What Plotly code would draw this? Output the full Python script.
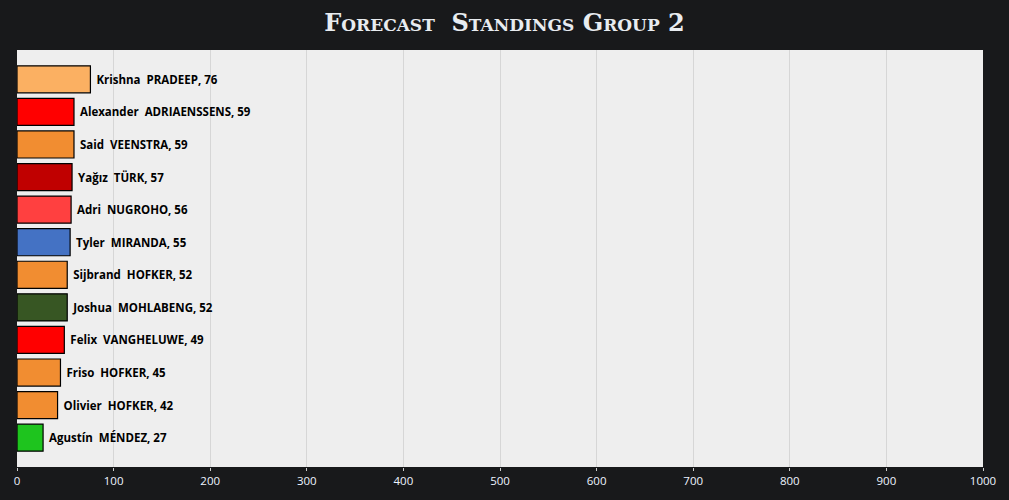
import plotly.graph_objects as go

first_names = ["Krishna", "Alexander", "Said", "Yağız", "Adri", "Tyler", "Sijbrand",
               "Joshua", "Felix", "Friso", "Olivier", "Agustín"]
last_names = ["PRADEEP", "ADRIAENSSENS", "VEENSTRA", "TÜRK", "NUGROHO", "MIRANDA", "HOFKER",
              "MOHLABENG", "VANGHELUWE", "HOFKER", "HOFKER", "MÉNDEZ"]
points = [76, 59, 59, 57, 56, 55, 52, 52, 49, 45, 42, 27]
bar_colors = ["#fbb062", "#ff0000", "#f18d31", "#c00000", "#ff4040", "#4472c4", "#f18d31",
              "#375623", "#ff0000", "#f18d31", "#f18d31", "#1ec41e"]
x_ticks = [0, 100, 200, 300, 400, 500, 600, 700, 800, 900, 1000]

labels = [f"\u00a0{f}\u00a0\u00a0{l},\u00a0{p}" for f, l, p in zip(first_names, last_names, points)]
cats = [f"{f} {l}" for f, l in zip(first_names, last_names)]

fig = go.Figure()
fig.add_trace(go.Bar(
    x=points, y=cats, orientation="h",
    marker=dict(color=bar_colors, line=dict(color="#000000", width=1.2)),
    text=labels, textposition="outside", cliponaxis=False,
    textfont=dict(family="Open Sans", size=11.5, color="#000000", weight="bold"),
    hoverinfo="skip",
))

fig.update_layout(
    width=1009, height=500,
    paper_bgcolor="#18191b", plot_bgcolor="#eeeeee",
    margin=dict(l=17, r=26, t=50, b=31),
    bargap=0.17,
    showlegend=False,
    title=dict(text="Forecast  Standings Group 2", x=0.5, xanchor="center", y=0.955, yanchor="middle",
               font=dict(family="DejaVu Serif", size=24, color="#e8ecf0", weight="bold",
                         variant="small-caps")),
    xaxis=dict(range=[0, 1000], tickvals=x_ticks, showgrid=True, gridcolor="#d6d6d6", gridwidth=1,
               zeroline=False, ticks="outside", ticklen=3, tickcolor="#cccccc",
               tickfont=dict(family="Open Sans", size=11.5, color="#eef4ff"), showline=False,
               fixedrange=True),
    yaxis=dict(autorange=False, range=[11.9, -0.9], showticklabels=False, showgrid=False,
               zeroline=False, showline=False, fixedrange=True),
)

fig.write_html("out.html", config={"displayModeBar": False},
               post_script="document.body.style.margin='0';document.body.style.background='#18191b';")
